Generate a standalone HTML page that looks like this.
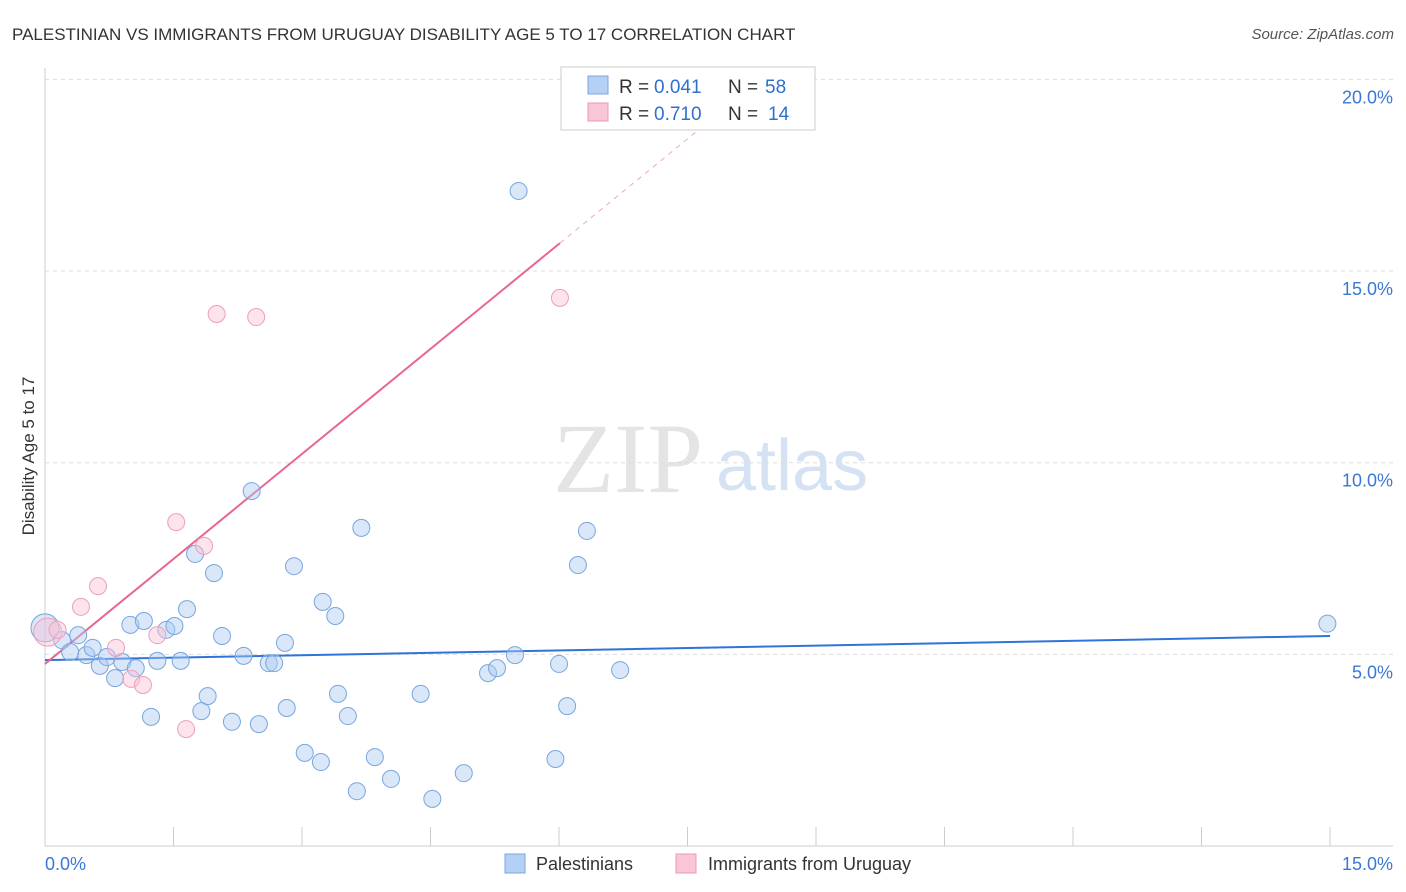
<!DOCTYPE html>
<html><head><meta charset="utf-8"><style>
body{margin:0;background:#fff;font-family:"Liberation Sans",sans-serif}
svg{display:block}
</style></head><body>
<svg id="c" width="1406" height="892" xmlns="http://www.w3.org/2000/svg">
<text x="12" y="40" font-size="17" fill="#333">PALESTINIAN VS IMMIGRANTS FROM URUGUAY DISABILITY AGE 5 TO 17 CORRELATION CHART</text>
<text x="1394" y="39" font-size="15" fill="#555" font-style="italic" text-anchor="end">Source: ZipAtlas.com</text>
<text x="553" y="492" font-size="100" fill="#e4e4e4" font-family="Liberation Serif,serif">ZIP</text>
<text x="716" y="490" font-size="72" fill="#d4e2f4">atlas</text>
<text transform="translate(34,456) rotate(-90)" font-size="17" fill="#333" text-anchor="middle">Disability Age 5 to 17</text>
<g id="grid"></g><g id="axes"></g><g id="trend"></g><g id="pts"></g>
<g>
<rect x="561" y="67" width="254" height="63" fill="#fff" stroke="#ccc"/>
<rect x="588" y="76" width="20" height="18" fill="#b5d0f5" stroke="#7aa6e0"/>
<text x="619" y="93" font-size="19" fill="#333">R =</text>
<text x="654" y="93" font-size="19" fill="#2f6fd0">0.041</text>
<text x="728" y="93" font-size="19" fill="#333">N =</text>
<text x="765" y="93" font-size="19" fill="#2f6fd0">58</text>
<rect x="588" y="103" width="20" height="18" fill="#f9c6d6" stroke="#ec98b4"/>
<text x="619" y="120" font-size="19" fill="#333">R =</text>
<text x="654" y="120" font-size="19" fill="#2f6fd0">0.710</text>
<text x="728" y="120" font-size="19" fill="#333">N =</text>
<text x="768" y="120" font-size="19" fill="#2f6fd0">14</text>
</g>
<g>
<rect x="505" y="854" width="20" height="19" fill="#b5d0f5" stroke="#7aa6e0"/>
<text x="536" y="870" font-size="18" fill="#333">Palestinians</text>
<rect x="676" y="854" width="20" height="19" fill="#f9c6d6" stroke="#ec98b4"/>
<text x="708" y="870" font-size="18" fill="#333">Immigrants from Uruguay</text>
</g>
</svg>
<script>
const yTicks=[5,10,15,20];
const yTickLabels=["5.0%","10.0%","15.0%","20.0%"];
const xLabels=["0.0%","15.0%"];
const blueX=[0,0.19,0.28,0.37,0.46,0.53,0.61,0.69,0.78,0.86,0.95,1.01,1.10,1.18,1.25,1.35,1.44,1.51,1.58,1.67,1.74,1.81,1.88,1.97,2.08,2.21,2.30,2.38,2.49,2.55,2.67,2.69,2.77,2.89,3.07,3.09,3.23,3.26,3.37,3.47,3.52,3.67,3.85,4.18,4.31,4.66,4.93,5.03,5.23,5.27,5.68,5.72,5.81,5.93,6.03,6.40,14.27];
const blueY=[5.69,5.37,5.06,5.50,4.98,5.17,4.70,4.93,4.38,4.80,5.77,4.64,5.87,3.37,4.83,5.64,5.74,4.83,6.18,7.62,3.52,3.91,7.12,5.48,3.24,4.96,9.26,3.18,4.77,4.77,5.30,3.60,7.30,2.43,2.19,6.37,6.00,3.97,3.39,1.43,8.30,2.32,1.75,3.97,1.23,1.90,4.51,4.64,4.98,17.09,2.27,4.75,3.65,7.33,8.22,4.59,5.80];
const pinkX=[0.03,0.14,0.40,0.59,0.79,0.96,1.09,1.25,1.46,1.57,1.77,1.91,2.35,5.73];
const pinkY=[5.58,5.64,6.24,6.78,5.17,4.36,4.20,5.50,8.45,3.05,7.83,13.88,13.80,14.30];
const blueTrend=[4.85,5.48];
const pinkTrend=[4.75,1.916];
const NS="http://www.w3.org/2000/svg";
const X=v=>45+v*(1393-45)/15;
const Y=v=>846-v*38.33;
function mk(tag,attrs,parent){const e=document.createElementNS(NS,tag);for(const k in attrs)e.setAttribute(k,attrs[k]);document.getElementById(parent).appendChild(e);return e;}
yTicks.forEach((t,i)=>{
 const l=mk('line',{x1:45,x2:1393,y1:Y(t),y2:Y(t),stroke:'#ddd','stroke-dasharray':'4,4'},'grid');
 
 
 const tx=mk('text',{x:1393,y:Y(t)+24,'font-size':18,fill:'#3a78d4','text-anchor':'end'},'grid');
 tx.textContent=yTickLabels[i];
 
 
});
const ax=mk('line',{x1:45,x2:45,y1:68,y2:846,stroke:'#ccc'},'axes');


const bx=mk('line',{x1:45,x2:1393,y1:846,y2:846,stroke:'#ccc'},'axes');


for(let i=0;i<=10;i++){const px=45+i*128.5;
 const t=mk('line',{x1:px,x2:px,y1:827,y2:846,stroke:'#ccc'},'axes');
 
 }
const l0=mk('text',{x:45,y:870,'font-size':18,fill:'#3a78d4'},'axes');l0.textContent=xLabels[0];


const l1=mk('text',{x:1393,y:870,'font-size':18,fill:'#3a78d4','text-anchor':'end'},'axes');l1.textContent=xLabels[1];


const bt=mk('line',{x1:X(0),y1:Y(blueTrend[0]),x2:X(14.3),y2:Y(blueTrend[1]),stroke:'#2f74d8','stroke-width':2},'trend');


const pt=mk('line',{x1:X(0),y1:Y(pinkTrend[0]),x2:X(5.73),y2:Y(pinkTrend[0]+pinkTrend[1]*5.73),stroke:'#e8668f','stroke-width':2},'trend');


const pd=mk('line',{x1:X(5.73),y1:Y(pinkTrend[0]+pinkTrend[1]*5.73),x2:X(7.3),y2:Y(pinkTrend[0]+pinkTrend[1]*7.3),stroke:'#f0a8be','stroke-width':1,'stroke-dasharray':'5,5'},'trend');


blueX.forEach((v,i)=>{const c=mk('circle',{cx:X(v),cy:Y(blueY[i]),r:i===0?14:8.5,fill:'rgba(170,202,242,0.45)',stroke:'#78a6de','stroke-width':1},'pts');
 
 });
pinkX.forEach((v,i)=>{const c=mk('circle',{cx:X(v),cy:Y(pinkY[i]),r:i===0?14:8.5,fill:'rgba(248,194,212,0.45)',stroke:'#eca0b9','stroke-width':1},'pts');
 
 });
</script>
</body></html>
